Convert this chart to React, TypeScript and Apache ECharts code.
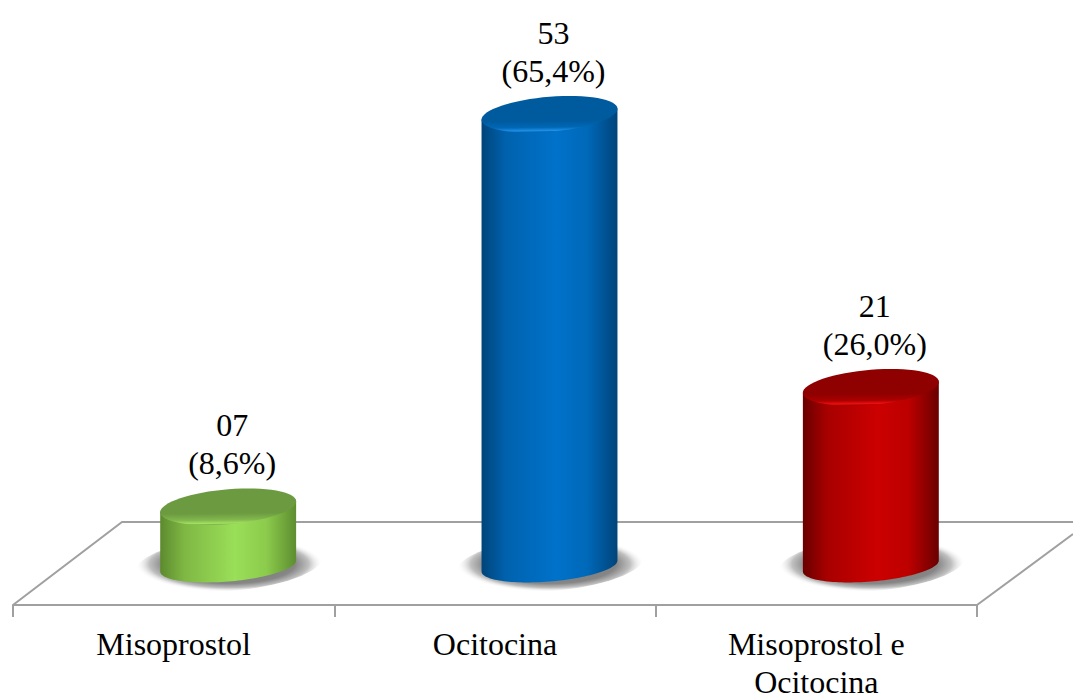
import React, { useEffect, useRef } from "react";
import * as echarts from "echarts";

const categories = ["Misoprostol", "Ocitocina", "Misoprostol e\nOcitocina"];
const values = [7, 53, 21];
const percents = ["8,6%", "65,4%", "26,0%"];
const valueTexts = ["07", "53", "21"];
const bodyColors = [
  ["#5c8a2e", "#7fb844", "#9adf58", "#8ccb4c", "#5d8d30"],
  ["#00447a", "#0062ae", "#0072ca", "#0068b8", "#00447a"],
  ["#6a0000", "#a80000", "#cc0000", "#bc0000", "#6a0000"],
];
const capColors = [
  ["#6c9a40", "#82b84e", "#a2e060"],
  ["#005a9e", "#0068b6", "#2090e8"],
  ["#8f0000", "#ac0000", "#ee1010"],
];

const FONT = '"Liberation Serif", "Times New Roman", serif';
const DEPTH_SHIFT = 54.5;
const SKEW = 5.5;
const RY = 15.5;

function ellipsePoints(cx: number, cy: number, a: number, b: number, s: number, t0: number, t1: number, n = 64) {
  const pts: number[][] = [];
  for (let i = 0; i <= n; i++) {
    const t = t0 + ((t1 - t0) * i) / n;
    pts.push([cx + a * Math.cos(t), cy + b * Math.sin(t) - s * Math.cos(t)]);
  }
  return pts;
}

const renderCylinder = (params: any, api: any) => {
  const i = api.value(0);
  const v = api.value(1);
  const top = api.coord([i, v]);
  const base = api.coord([i, 0]);
  const band = api.size([1, 0])[0];
  const a = band * 0.2115;
  const cx = top[0] + DEPTH_SHIFT;
  const yt = top[1];
  const yb = base[1] - 1;
  const body = [
    ...ellipsePoints(cx, yb, a, RY, SKEW, Math.PI, 0),
    ...ellipsePoints(cx, yt, a, RY, SKEW, 0, -Math.PI),
  ];
  const c = bodyColors[i];
  const k = capColors[i];
  const lin = (x: number, y: number, x2: number, y2: number, stops: [number, string][]) => ({
    type: "linear",
    x,
    y,
    x2,
    y2,
    colorStops: stops.map(([offset, color]) => ({ offset, color })),
  });
  return {
    type: "group",
    children: [
      {
        type: "polygon",
        shape: { points: ellipsePoints(cx + 1, yb - 2, a * 1.38, RY * 1.75, SKEW * 1.3, 0, Math.PI * 2) },
        style: {
          fill: {
            type: "radial",
            x: 0.5,
            y: 0.5,
            r: 0.5,
            colorStops: [
              { offset: 0, color: "#707070" },
              { offset: 0.7, color: "#868686" },
              { offset: 0.85, color: "#c0c0c0" },
              { offset: 1, color: "rgba(255,255,255,0)" },
            ],
          },
        },
      },
      {
        type: "polygon",
        shape: { points: body },
        style: {
          fill: lin(0, 0, 1, 0, [
            [0, c[0]],
            [0.18, c[1]],
            [0.55, c[2]],
            [0.78, c[3]],
            [1, c[4]],
          ]),
        },
      },
      {
        type: "polygon",
        shape: { points: ellipsePoints(cx, yt - 0.5, a, RY + 2, SKEW, 0, Math.PI * 2) },
        style: {
          fill: lin(0, 0, 0.05, 1, [
            [0, k[0]],
            [0.7, k[0]],
            [0.88, k[1]],
            [0.97, k[2]],
            [1, k[1]],
          ]),
        },
      },
      {
        type: "text",
        x: cx + 4,
        y: yt - 25,
        style: {
          text: `${valueTexts[i]}\n(${percents[i]})`,
          font: `32px ${FONT}`,
          lineHeight: 38,
          align: "center",
          verticalAlign: "bottom",
          fill: "#000",
        },
      },
    ],
  };
};

export default function App() {
  const ref = useRef<HTMLDivElement>(null);
  useEffect(() => {
    document.body.style.margin = "0";
    document.body.style.overflow = "hidden";
    const chart = echarts.init(ref.current!, null, { renderer: "svg" });
    const lineStyle = { stroke: "#a0a0a0", lineWidth: 2, fill: "none" };
    chart.setOption({
      animation: false,
      backgroundColor: "#fff",
      grid: { left: 13, top: 55, width: 964, height: 512, outerBoundsMode: "none" },
      xAxis: {
        type: "category",
        data: categories,
        offset: 38,
        axisLine: { show: true, onZero: false, lineStyle: { color: "#a0a0a0", width: 2 } },
        axisTick: { show: true, length: 12, lineStyle: { color: "#a0a0a0", width: 2 } },
        axisLabel: {
          interval: 0,
          margin: 20,
          color: "#000",
          fontFamily: FONT,
          fontSize: 32,
          lineHeight: 38,
        },
      },
      yAxis: { type: "value", min: 0, max: 60, show: false },
      graphic: [
        {
          type: "polyline",
          z: 0,
          shape: { points: [[13, 605], [122, 522], [1073, 522]] },
          style: lineStyle,
        },
        {
          type: "line",
          z: 0,
          shape: { x1: 977, y1: 605, x2: 1073, y2: 534 },
          style: lineStyle,
        },
      ],
      series: [
        {
          type: "custom",
          clip: false,
          z: 5,
          encode: { x: 0, y: 1 },
          data: values.map((v, i) => [i, v]),
          renderItem: renderCylinder,
        },
      ],
    });
    return () => chart.dispose();
  }, []);
  return <div ref={ref} style={{ position: "absolute", left: 0, top: 0, width: 1073, height: 695 }} />;
}
